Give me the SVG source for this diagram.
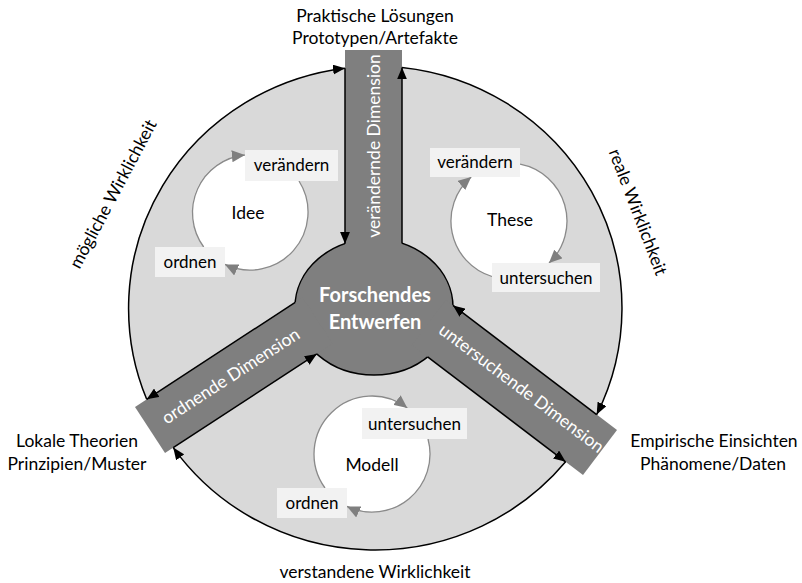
<svg xmlns="http://www.w3.org/2000/svg" width="802" height="583" viewBox="0 0 802 583">
<defs>
<style>
text{font-family:Lato,"Open Sans","Liberation Sans",sans-serif;}
.lbl{font-size:17.5px;fill:#000;text-anchor:middle;}
.bar{fill:#7f7f7f;}
.bartxt{font-size:17.5px;fill:#fff;text-anchor:middle;}
.box{fill:#f2f2f2;}
.boxtxt{font-size:17px;fill:#000;text-anchor:middle;}
.ctr{font-size:17.5px;fill:#000;text-anchor:middle;}
.blk{fill:none;stroke:#000;stroke-width:1.5;marker-end:url(#ah);}
.gry{fill:none;stroke:#8a8a8a;stroke-width:1.3;marker-end:url(#gh);}
.cyc{fill:#fff;}
</style>
<marker id="ah" viewBox="0 0 12 10" refX="12" refY="5" markerWidth="12" markerHeight="10" markerUnits="userSpaceOnUse" orient="auto">
<path d="M0,0 L12,5 L0,10 z" fill="#000"/>
</marker>
<marker id="gh" viewBox="0 0 13 12" refX="13" refY="6" markerWidth="13" markerHeight="12" markerUnits="userSpaceOnUse" orient="auto">
<path d="M0,0 L13,6 L0,12 z" fill="#7f7f7f"/>
</marker>
</defs>
<rect width="802" height="583" fill="#fff"/>

<g id="outer-circle">
<ellipse cx="375" cy="308" rx="247" ry="242" fill="#d9d9d9"/>
</g>

<g id="cycle-idee">
<circle class="cyc" cx="250" cy="212" r="58"/>
<text class="ctr" x="248" y="219">Idee</text>
</g>
<g id="cycle-these">
<circle class="cyc" cx="509" cy="221" r="58"/>
<text class="ctr" x="510" y="226">These</text>
</g>
<g id="cycle-modell">
<circle class="cyc" cx="372" cy="454" r="58"/>
<text class="ctr" x="372" y="471">Modell</text>
</g>

<g id="center">
<ellipse cx="374" cy="307" rx="79" ry="68" fill="#7f7f7f" stroke="#000" stroke-width="1.5"/>
</g>

<g id="bar-veraendernd">
<rect class="bar" x="345" y="50" width="57" height="215"/>
<text class="bartxt" transform="translate(379.5,146) rotate(-90)" y="0">verändernde Dimension</text>
</g>
<g id="bar-ordnend">
<polygon class="bar" points="135,407 165,453 332.6,343.6 302.6,297.6"/>
<text class="bartxt" transform="translate(234,381) rotate(-33)" y="0">ordnende Dimension</text>
</g>
<g id="bar-untersuchend">
<polygon class="bar" points="617,430 583,475 411.9,345 445.9,299.9"/>
<text class="bartxt" transform="translate(518,393) rotate(37)" y="0">untersuchende Dimension</text>
</g>

<g id="center-label">
<text x="375" y="302" font-size="20" font-weight="bold" fill="#fff" text-anchor="middle">Forschendes</text>
<text x="375" y="329" font-size="20" font-weight="bold" fill="#fff" text-anchor="middle">Entwerfen</text>
</g>

<g id="connectors">
<path class="blk" d="M146.7,399.3 A247,242 0 0 1 345,68.2"/>
<path class="blk" d="M402,67.4 A247,242 0 0 1 596.7,414.6"/>
<path class="blk" d="M565.6,461.8 A247,242 0 0 1 173.2,447.6"/>
<path class="blk" d="M345,68.2 L345,243.8"/>
<path class="blk" d="M402,243.4 L402,67.4"/>
<path class="blk" d="M295.2,302.4 L146.7,399.3"/>
<path class="blk" d="M173.2,447.6 L316.8,353.9"/>
<path class="blk" d="M596.7,414.6 L453,305.4"/>
<path class="blk" d="M427.6,356.9 L565.6,461.8"/>
<path class="gry" d="M203.7,247 A58,58 0 0 1 244.9,155"/>
<path class="gry" d="M299,181 A58,58 0 0 1 225,264.4"/>
<path class="gry" d="M492,276.5 A58,58 0 0 1 471.2,177"/>
<path class="gry" d="M520.1,164.1 A58,58 0 0 1 549,263"/>
<path class="gry" d="M325,488 A58,58 0 0 1 407.3,408"/>
<path class="gry" d="M428,439 A58,58 0 0 1 347,506.4"/>
</g>

<g id="step-idee-veraendern">
<rect class="box" x="245" y="150" width="93" height="31"/>
<text class="boxtxt" x="291.5" y="171">verändern</text>
</g>
<g id="step-idee-ordnen">
<rect class="box" x="155" y="247" width="70" height="30"/>
<text class="boxtxt" x="190" y="268">ordnen</text>
</g>
<g id="step-these-veraendern">
<rect class="box" x="430" y="148" width="90" height="29"/>
<text class="boxtxt" x="475" y="168">verändern</text>
</g>
<g id="step-these-untersuchen">
<rect class="box" x="492" y="263" width="108" height="29"/>
<text class="boxtxt" x="546" y="284">untersuchen</text>
</g>
<g id="step-modell-untersuchen">
<rect class="box" x="362" y="408" width="105" height="31"/>
<text class="boxtxt" x="414.5" y="430">untersuchen</text>
</g>
<g id="step-modell-ordnen">
<rect class="box" x="277" y="488" width="70" height="30"/>
<text class="boxtxt" x="312" y="509">ordnen</text>
</g>

<g id="outer-labels">
<text class="lbl" x="375" y="22">Praktische Lösungen</text>
<text class="lbl" x="375" y="44">Prototypen/Artefakte</text>
<text class="lbl" x="77" y="447">Lokale Theorien</text>
<text class="lbl" x="77" y="470">Prinzipien/Muster</text>
<text class="lbl" x="714" y="447">Empirische Einsichten</text>
<text class="lbl" x="713" y="470">Phänomene/Daten</text>
<text class="lbl" x="375" y="578">verstandene Wirklichkeit</text>
<text class="lbl" transform="translate(113,194) rotate(-62)" y="6">mögliche Wirklichkeit</text>
<text class="lbl" transform="translate(638,212) rotate(69)" y="6">reale Wirklichkeit</text>
</g>
</svg>
